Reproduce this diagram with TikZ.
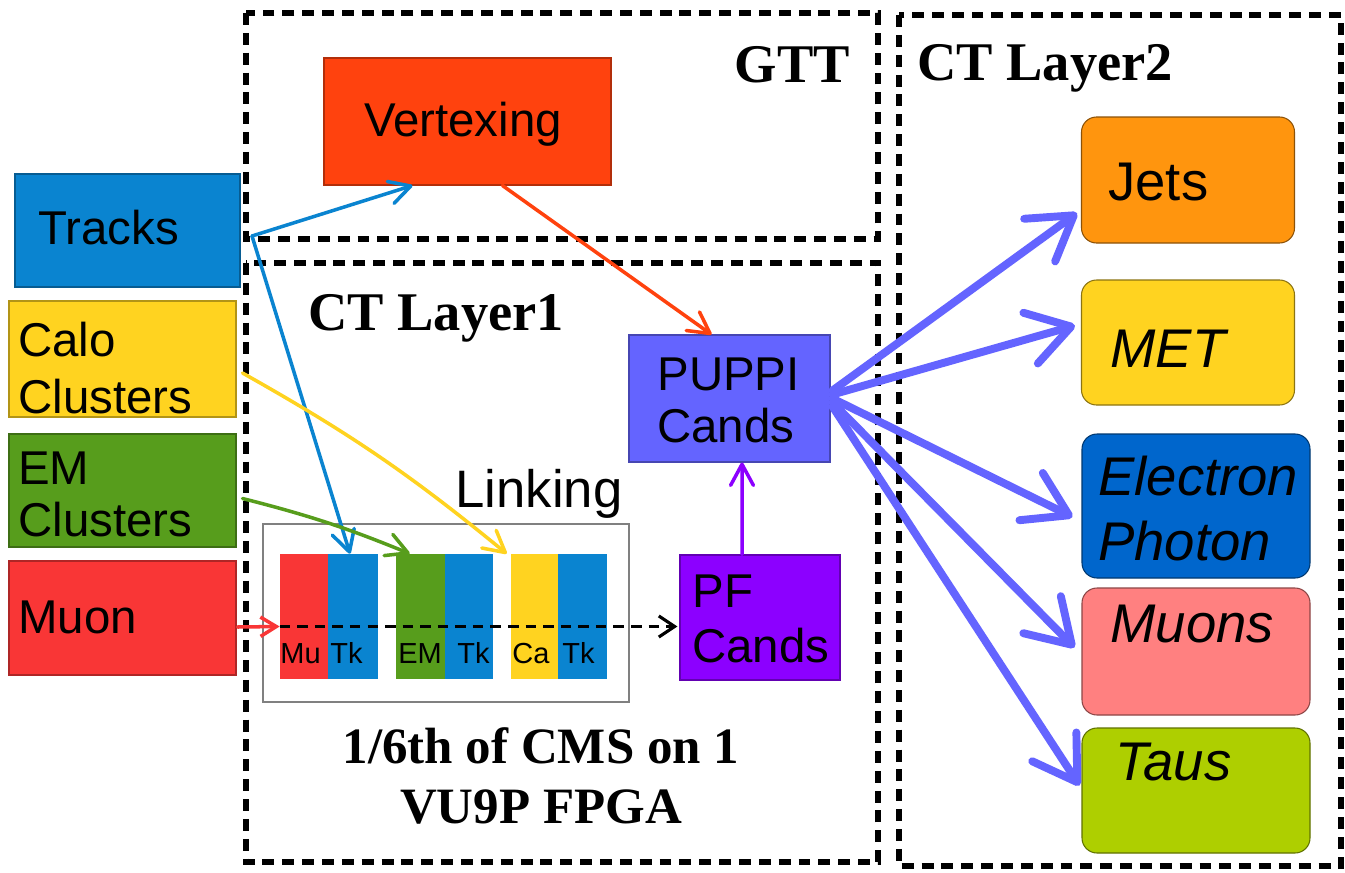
\documentclass[tikz,border=0pt]{standalone}
\usepackage{fontspec}
\setmainfont{Liberation Serif}
\setsansfont{Liberation Sans}
\usetikzlibrary{arrows.meta,calc}

\definecolor{trkblue}{HTML}{0A84D0}
\definecolor{caloyel}{HTML}{FFD320}
\definecolor{emgreen}{HTML}{579D1C}
\definecolor{mured}{HTML}{F93636}
\definecolor{vtxorange}{HTML}{FF420E}
\definecolor{puppiblue}{HTML}{6464FF}
\definecolor{pfviolet}{HTML}{8C00FF}
\definecolor{jetorange}{HTML}{FF950E}
\definecolor{egblue}{HTML}{0066CC}
\definecolor{musalmon}{HTML}{FF8080}
\definecolor{taulime}{HTML}{AECF00}

\begin{document}
\begin{tikzpicture}[x=0.02cm,y=-0.02cm,
  pbox/.style 2 args={rectangle,inner sep=0pt,minimum width=#1*0.02cm,minimum height=#2*0.02cm},
  srcbox/.style={fill=#1,draw=#1!70!black,line width=0.6pt},
  outbox/.style={fill=#1,draw=#1!55!black,line width=0.6pt,rounded corners=0.3cm},
  bar/.style={fill=#1},
  region/.style={draw=black,line width=3.1pt,dash pattern=on 6.8pt off 4.5pt},
  lbl/.style={font=\sffamily\fontsize{27}{32}\selectfont,inner sep=0pt,anchor=base west},
  olbl/.style={font=\sffamily\fontsize{31}{37}\selectfont,inner sep=0pt,anchor=base west},
  tinylbl/.style={font=\sffamily\fontsize{16.5}{20}\selectfont,inner sep=0pt,anchor=base west},
  ttl/.style={font=\bfseries\fontsize{31}{37}\selectfont,inner sep=0pt},
  note/.style={font=\bfseries\fontsize{29}{34}\selectfont,inner sep=0pt,anchor=base},
  link/.style={draw=#1,line width=2pt,line cap=round,
    -{Straight Barb[length=12pt,width=13pt,line cap=round,line join=round]}},
  fan/.style={draw=puppiblue,line width=4.5pt,line cap=round,
    -{Straight Barb[length=24pt,width=30pt,line cap=round,line join=round]}}]

\useasboundingbox (0,0) rectangle (1345,872);
\fill[white] (0,0) rectangle (1345,872);

% dashed processing regions
\draw[region] (246,13) rectangle (878,239);
\draw[region] (246,263) rectangle (878,862);
\draw[region] (899,15) rectangle (1341,866);

\node[ttl,anchor=base east] (gtt) at (850,82) {GTT};
\node[ttl,anchor=base west] (ctl1) at (308,330) {CT Layer1};
\node[ttl,anchor=base west] (ctl2) at (917,80) {CT Layer2};

% input collections
\node[pbox={225}{113},srcbox=trkblue] (tracks) at (127.5,230.5) {};
\node[pbox={227}{116},srcbox=caloyel] (calo) at (122.5,359) {};
\node[pbox={227}{113},srcbox=emgreen] (em) at (122.5,490.5) {};
\node[pbox={227}{114},srcbox=mured] (muon) at (122.5,618) {};
\node[lbl] (tTracks) at (38,244) {Tracks};
\node[lbl] (tCalo1) at (18,356) {Calo};
\node[lbl] (tCalo2) at (18,413) {Clusters};
\node[lbl] (tEm1) at (18,484) {EM};
\node[lbl] (tEm2) at (18,536) {Clusters};
\node[lbl] (tMuon) at (18,633) {Muon};

% track trigger and layer-1 blocks
\node[pbox={287}{127},srcbox=vtxorange] (vtx) at (467.5,121.5) {};
\node[lbl,anchor=base] (tVtx) at (463,136) {Vertexing};
\node[pbox={201}{127},srcbox=puppiblue] (puppi) at (729.5,398.5) {};
\node[lbl] (tPuppi1) at (657,390) {PUPPI};
\node[lbl] (tPuppi2) at (657,442) {Cands};
\node[pbox={160}{125},srcbox=pfviolet] (pf) at (760,617.5) {};
\node[lbl] (tPf1) at (692,607) {PF};
\node[lbl] (tPf2) at (692,662) {Cands};

% linking stage
\node[pbox={366}{178},draw=gray,line width=0.8pt] (linkbox) at (446,613) {};
\node[lbl,font=\sffamily\fontsize{30}{36}\selectfont] (tLink) at (455,507) {Linking};
\node[pbox={48}{125},bar=mured] (bmu) at (304,616.5) {};
\node[pbox={50}{125},bar=trkblue] (tk1) at (353,616.5) {};
\node[pbox={49}{125},bar=emgreen] (bem) at (420.5,616.5) {};
\node[pbox={48}{125},bar=trkblue] (tk2) at (469,616.5) {};
\node[pbox={47}{125},bar=caloyel] (bca) at (534.5,616.5) {};
\node[pbox={49}{125},bar=trkblue] (tk3) at (582.5,616.5) {};
\node[tinylbl] (tMu) at (280,663) {Mu};
\node[tinylbl] (tTk1) at (330,663) {Tk};
\node[tinylbl] (tEM) at (398,663) {EM};
\node[tinylbl] (tTk2) at (457,663) {Tk};
\node[tinylbl] (tCa) at (512,663) {Ca};
\node[tinylbl] (tTk3) at (562,663) {Tk};

\node[note] (n1) at (541,763) {1/6th of CMS on 1};
\node[note] (n2) at (541,823) {VU9P FPGA};

% layer-2 outputs
\node[pbox={213}{126},outbox=jetorange] (jets) at (1188,180) {};
\node[pbox={213}{125},outbox=caloyel] (met) at (1188,342.5) {};
\node[pbox={228}{144},outbox=egblue] (ep) at (1196,506) {};
\node[pbox={228}{127},outbox=musalmon] (muons) at (1196,651.5) {};
\node[pbox={228}{125},outbox=taulime] (taus) at (1196,790.5) {};
\node[olbl] (tJets) at (1108,200) {Jets};
\node[olbl,font=\sffamily\itshape\fontsize{31}{37}\selectfont] (tMet) at (1110,367) {MET};
\node[olbl,font=\sffamily\itshape\fontsize{31}{37}\selectfont] (tEl) at (1098,495) {Electron};
\node[olbl,font=\sffamily\itshape\fontsize{31}{37}\selectfont] (tPh) at (1098,560) {Photon};
\node[olbl,font=\sffamily\itshape\fontsize{31}{37}\selectfont] (tMus) at (1110,642) {Muons};
\node[olbl,font=\sffamily\itshape\fontsize{31}{37}\selectfont] (tTau) at (1115,780) {Taus};

% connectors
\coordinate (tsplit) at (252,236);
\draw[link=trkblue] (tsplit) -- ($(vtx.south west)+(89,0)$);
\draw[link=trkblue] (tsplit) -- ($(tk1.north)+(-3,0)$);
\draw[link=vtxorange] ($(vtx.south west)+(179,0)$) -- ($(puppi.north west)+(83,0)$);
\draw[link=caloyel] ($(calo.east)+(6,14)$) to[bend left=5] ($(bca.north west)+(-4,0)$);
\draw[link=emgreen] ($(em.east)+(6,8)$) to[bend left=4] ($(bem.north west)+(14,0)$);
\draw[link=mured,-{Straight Barb[length=9pt,width=11pt]}] ($(muon.east)+(1,9)$) -- ($(bmu.west)+(0,10)$);
\draw[draw=black,line width=1.8pt,dash pattern=on 6pt off 4pt,
  -{Straight Barb[length=9pt,width=12pt]}] ($(bmu.west)+(0,10)$) -- ($(pf.west)+(-2,9)$);
\draw[link=pfviolet] ($(pf.north)+(-18,0)$) -- ($(puppi.south)+(12.5,0)$);

\draw[fan] ($(puppi.east)+(2,-8)$) -- ($(jets.west)+(-4,33)$);
\draw[fan] ($(puppi.east)+(2,-4)$) -- ($(met.west)+(-6,-17)$);
\draw[fan] ($(puppi.east)+(2,0)$) -- ($(ep.west)+(-9,11)$);
\draw[fan] ($(puppi.east)+(2,4)$) -- ($(muons.west)+(-7,-4)$);
\draw[fan] ($(puppi.east)+(2,8)$) -- ($(taus.west)+(-2,-5)$);
\end{tikzpicture}
\end{document}
